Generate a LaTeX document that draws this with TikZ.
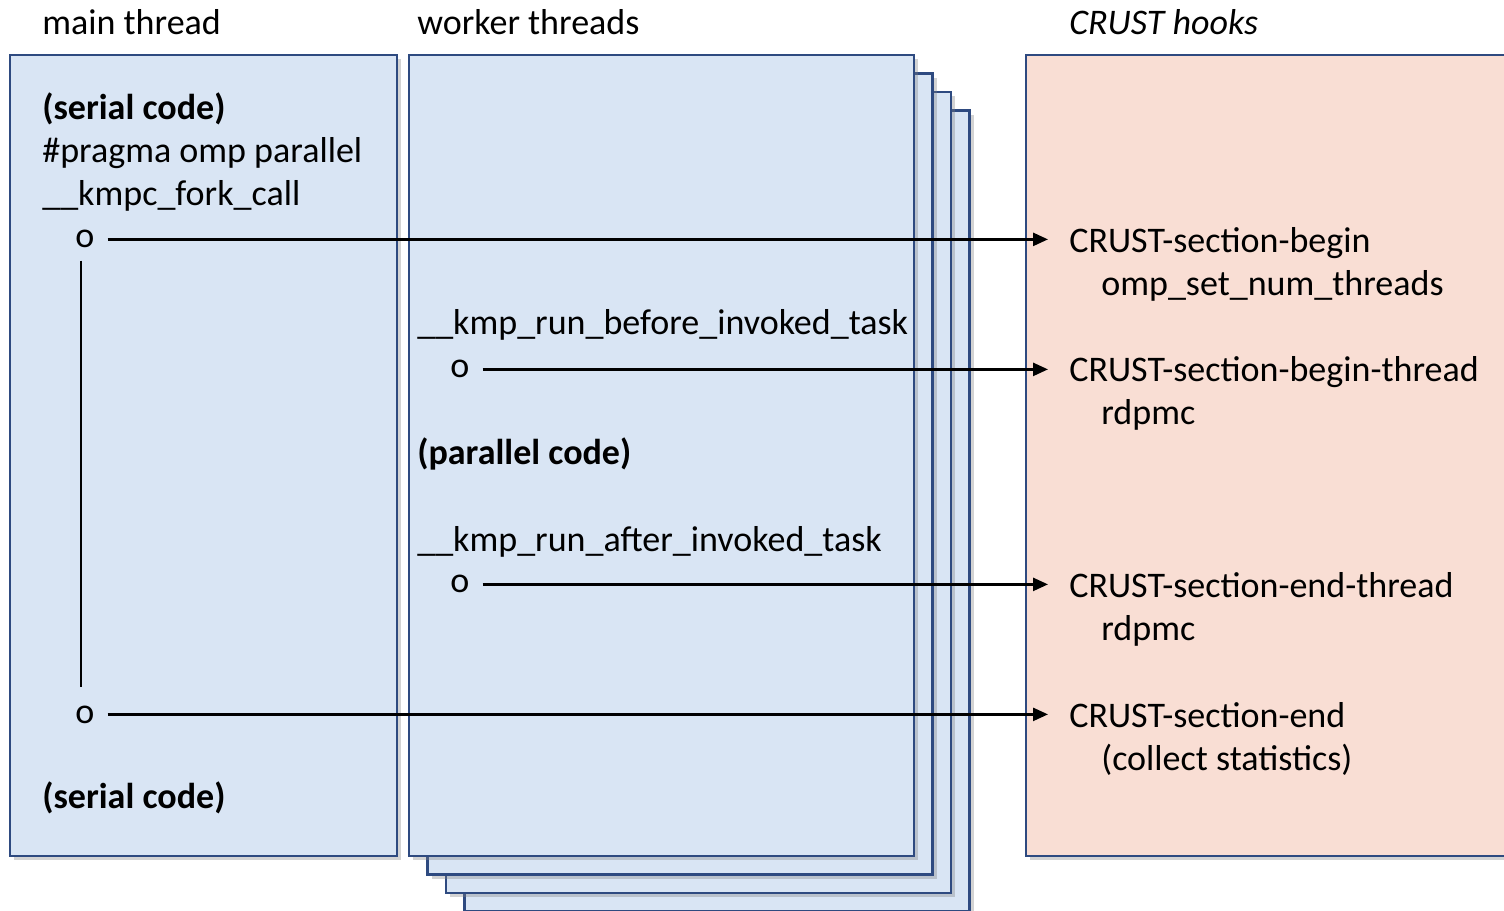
\documentclass[tikz,border=0pt]{standalone}
\usepackage{fontspec}
\setmainfont{Carlito}
\usetikzlibrary{arrows.meta,shadows}
\definecolor{threadblue}{HTML}{D9E5F4}
\definecolor{hookpink}{HTML}{F9DED4}
\definecolor{frameblue}{HTML}{2E4A80}
\begin{document}
\begin{tikzpicture}[x=0.02cm, y=-0.02cm,
    panel/.style={draw=frameblue, line width=0.05cm,
        drop shadow={shadow xshift=2.5pt, shadow yshift=-2.5pt, opacity=0.35}},
    txt/.style={anchor=base west, inner sep=0pt, font=\fontsize{20.5pt}{25pt}\selectfont},
    call/.style={->, line width=0.05cm, shorten <=0.26cm, shorten >=0.42cm},
    >={Triangle[length=0.3cm, width=0.26cm]}]
    \useasboundingbox (0, 0) rectangle (1504, 911);
    \clip (0, 0) rectangle (1504, 911);

    % panels
    \draw[panel, fill=threadblue] (10, 55) rectangle (397, 856);
    \foreach \k in {3, 2, 1}
        \draw[panel, fill=threadblue] (409+18.5*\k, 55+18.5*\k) rectangle (914+18.5*\k, 856+18.5*\k);
    \draw[panel, fill=threadblue] (409, 55) rectangle (914, 856);
    \draw[panel, fill=hookpink] (1026, 55) rectangle (1530, 856);

    % headers
    \node[txt] (MT) at (42, 35) {main thread};
    \node[txt] (WT) at (417, 35) {worker threads};
    \node[txt] (CH) at (1069, 35) {\itshape CRUST hooks};

    % main thread
    \node[txt] (SC1) at (42, 120) {\bfseries (serial code)};
    \node[txt] (PR) at (42, 163) {\#pragma omp parallel};
    \node[txt] (FC) at (42, 206) {\_\_kmpc\_fork\_call};
    \node[txt] (O1) at (75, 248) {o};
    \node[txt] (O2) at (75, 723) {o};
    \node[txt] (SC2) at (42, 808) {\bfseries (serial code)};

    % worker threads
    \node[txt] (BT) at (417, 335) {\_\_kmp\_run\_before\_invoked\_task};
    \node[txt] (O3) at (450, 378) {o};
    \node[txt] (PC) at (417, 465) {\bfseries (parallel code)};
    \node[txt] (AT) at (417, 552) {\_\_kmp\_run\_after\_invoked\_task};
    \node[txt] (O4) at (450, 593) {o};

    % hooks
    \node[txt] (HB) at (1069, 253) {CRUST-section-begin};
    \node[txt] (NT) at (1101, 296) {omp\_set\_num\_threads};
    \node[txt] (HBT) at (1069, 382) {CRUST-section-begin-thread};
    \node[txt] (R1) at (1101, 425) {rdpmc};
    \node[txt] (HET) at (1069, 598) {CRUST-section-end-thread};
    \node[txt] (R2) at (1101, 641) {rdpmc};
    \node[txt] (HE) at (1069, 727) {CRUST-section-end};
    \node[txt] (CS) at (1101, 770) {(collect statistics)};

    % calls
    \draw[line width=0.05cm, shorten <=0.24cm, shorten >=0.36cm]
        ([xshift=-0.08cm]O1.south) -- ([xshift=-0.08cm]O2.north);
    \draw[call] (O1.east) -- (O1.east -| HB.west);
    \draw[call] (O3.east) -- (O3.east -| HBT.west);
    \draw[call] (O4.east) -- (O4.east -| HET.west);
    \draw[call] (O2.east) -- (O2.east -| HE.west);
\end{tikzpicture}
\end{document}
